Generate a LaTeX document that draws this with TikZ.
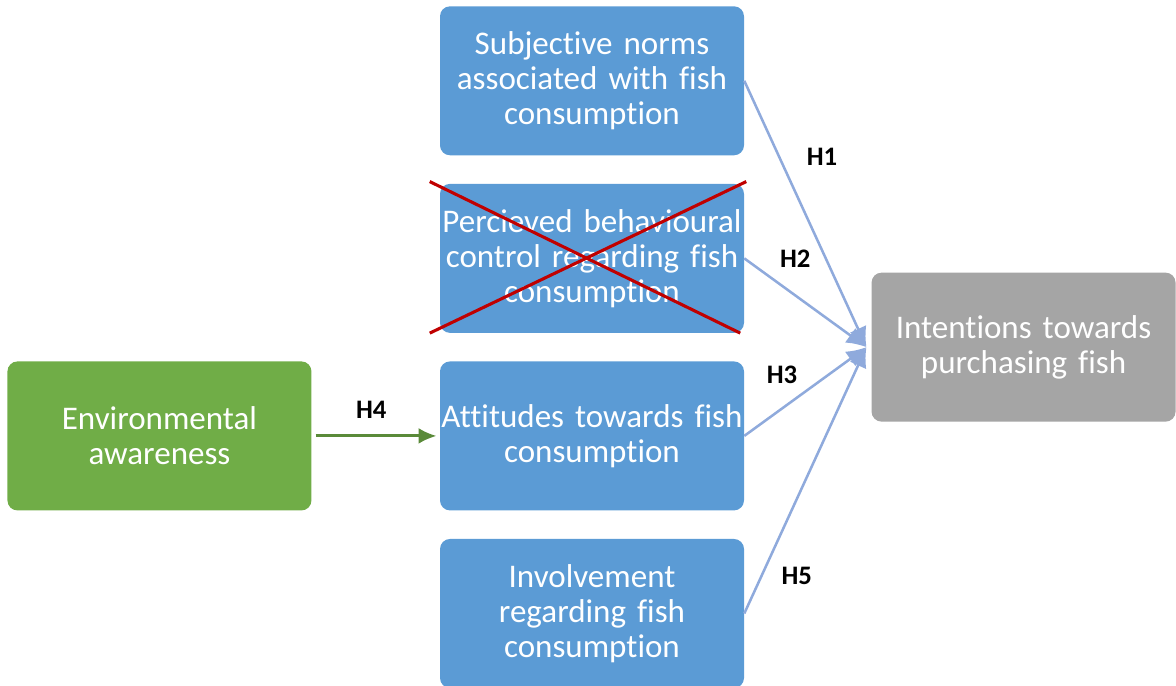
\documentclass[tikz,border=0pt]{standalone}
\usepackage{fontspec}
\setmainfont[Ligatures=NoCommon]{Carlito}
\usetikzlibrary{arrows.meta, positioning, calc}
\definecolor{boxblue}{RGB}{91, 155, 213}
\definecolor{boxgreen}{RGB}{112, 173, 71}
\definecolor{boxgray}{RGB}{165, 165, 165}
\definecolor{linkblue}{RGB}{143, 170, 220}
\definecolor{crossred}{RGB}{192, 0, 0}
\newcommand{\boxfont}{\fontsize{23.5}{24.9}\selectfont\spaceskip=0.17em\relax}

\begin{document}
\begin{tikzpicture}[
    node distance=0.7cm and 3.2cm,
    base/.style={
        rectangle,
        rounded corners=0.25cm,
        minimum height=3.725cm,
        minimum width=7.6cm,
        text width=7.55cm,
        inner sep=0pt,
        align=center,
        font=\boxfont,
        text=white
    },
    factor/.style={base, fill=boxblue},
    source/.style={base, fill=boxgreen},
    outcome/.style={base, fill=boxgray},
    link/.style={-{Latex[length=0.5cm, width=0.45cm]}, line width=1.8pt, color=linkblue},
    greenlink/.style={-{Latex[length=0.45cm, width=0.4cm]}, line width=2.1pt, color=boxgreen!80!black},
    hyp/.style={font=\fontsize{19}{22}\selectfont\bfseries, text=black},
    cross/.style={color=crossred, line width=2.2pt}
]
    \useasboundingbox (0,0) rectangle (29.4,-17.15);

    % Nodes
    \node[factor] (subjective) at (14.8,-2.02) {Subjective norms\\associated with fish\\consumption};
    \node[factor, below=of subjective] (perceived) {Percieved behavioural\\control regarding fish\\consumption};
    \node[factor, below=of perceived] (attitudes) {Attitudes towards fish\\consumption};
    \node[factor, below=of attitudes] (involvement) {Involvement\\regarding fish\\consumption};
    \node[source, left=of attitudes] (envaware) {Environmental\\awareness};
    \node[outcome, anchor=west] (intentions) at ($(perceived.east)!0.5!(attitudes.east)+(3.175cm,0)$) {Intentions towards\\purchasing fish};
    \coordinate (hub) at ($(intentions.west)+(-0.12cm,0)$);

    % Cross over the rejected factor
    \draw[cross] ($(perceived.north west)+(-0.25cm,0.05cm)$) -- ($(perceived.south east)+(-0.1cm,0)$);
    \draw[cross] ($(perceived.south west)+(-0.25cm,0)$) -- ($(perceived.north east)+(0.05cm,0.05cm)$);

    % Edges
    \draw[link] (subjective.east) -- (hub);
    \draw[link] (perceived.east) -- (hub);
    \draw[link] (attitudes.east) -- (hub);
    \draw[link] (involvement.east) -- (hub);
    \draw[greenlink] ($(envaware.east)+(0.1cm,0)$) -- ($(attitudes.west)+(-0.08cm,0)$);

    % Labels
    \node[hyp] (h1) at (20.55,-3.92) {H1};
    \node[hyp] (h2) at (19.88,-6.47) {H2};
    \node[hyp] (h3) at (19.55,-9.37) {H3};
    \node[hyp] (h4) at (9.28,-10.25) {H4};
    \node[hyp] (h5) at (19.92,-14.4) {H5};

\end{tikzpicture}
\end{document}
